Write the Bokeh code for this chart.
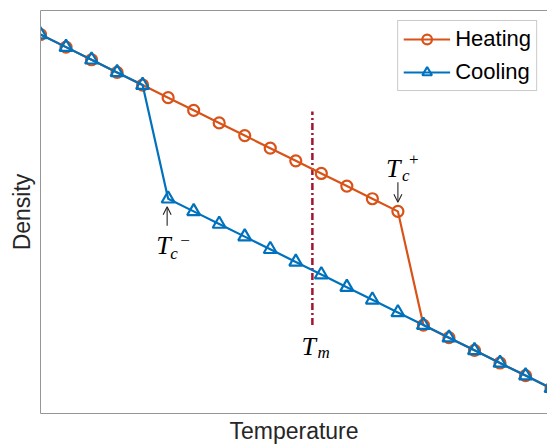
from bokeh.plotting import figure
from bokeh.models import FixedTicker, LinearAxis, Arrow, OpenHead, Legend, LegendItem
from bokeh.core.properties import value
from bokeh.embed import file_html
from bokeh.resources import INLINE

# ---- data ----
temperature = list(range(1, 22))
heating = [30, 29, 28, 27, 26, 25, 24, 23, 22, 21, 20, 19, 18, 17, 16,
           7, 6, 5, 4, 3, 2]
cooling = [30, 29, 28, 27, 26,
           17, 16, 15, 14, 13, 12, 11, 10, 9, 8, 7,
           6, 5, 4, 3, 2]
tm_x = 11.65
tm_span = [7, 23.9]
tc_minus_idx = 5    # index in cooling
tc_plus_idx = 14    # index in heating

x_range = (1, 20.86)
y_range = (0, 31.9)

ORANGE = "#D95319"
BLUE = "#0072BD"
RED = "#A2142F"
GRAY = "#969696"
INK = "#262626"

W, H = 547, 447
ML, MR, MT, MB = 40, 0, 10, 34
frame_w = W - ML - MR
frame_h = H - MT - MB
px_x = (x_range[1] - x_range[0]) / frame_w
px_y = (y_range[1] - y_range[0]) / frame_h

p = figure(width=W, height=H, x_range=x_range, y_range=y_range,
           output_backend="svg", toolbar_location=None,
           min_border_left=ML, min_border_right=MR,
           min_border_top=MT, min_border_bottom=MB)
p.outline_line_color = None
p.grid.visible = False
p.background_fill_color = "white"
p.border_fill_color = "white"

for ax in (p.xaxis[0], p.yaxis[0]):
    ax.ticker = FixedTicker(ticks=[])
    ax.major_tick_out = 0
    ax.major_tick_in = 0
    ax.major_label_standoff = 0
    ax.axis_line_color = GRAY
    ax.axis_line_width = 1
    ax.axis_label_text_font = "Liberation Sans"
    ax.axis_label_text_font_style = "normal"
    ax.axis_label_text_font_size = "23px"
    ax.axis_label_text_color = INK
p.xaxis.axis_label = "Temperature"
p.yaxis.axis_label = "Density"
p.xaxis.axis_label_standoff = 4
p.yaxis.axis_label_standoff = 6

top = LinearAxis(ticker=FixedTicker(ticks=[]), major_tick_out=0, major_tick_in=0,
                 major_label_standoff=0, axis_line_color=GRAY, axis_line_width=1)
p.add_layout(top, "above")

# T_m line
p.line([tm_x, tm_x], tm_span, line_color=RED, line_width=2.5, line_dash="7 3 2 3")

# series
hl = p.line(temperature, heating, line_color=ORANGE, line_width=2.2)
hs = p.scatter(temperature, heating, marker="circle", size=11, line_color=ORANGE,
               line_width=2.2, fill_color=None)
cl = p.line(temperature, cooling, line_color=BLUE, line_width=2.2)
cs = p.scatter(temperature, cooling, marker="triangle", size=13, line_color=BLUE,
               line_width=2.2, fill_color=None)

legend = Legend(items=[LegendItem(label="Heating", renderers=[hl, hs]),
                       LegendItem(label="Cooling", renderers=[cl, cs])],
                location="top_right", margin=10, padding=5, spacing=7,
                glyph_width=47, glyph_height=24, label_standoff=5,
                label_text_font="Liberation Sans", label_text_font_size="22px",
                label_text_color="black",
                border_line_color=GRAY, border_line_width=1,
                background_fill_color="white", background_fill_alpha=1)
p.add_layout(legend)

# math-style annotations
SERIF = value("Liberation Serif")


def math_text(x, y, txt, dx, dy, size):
    p.text([x], [y], text=[txt], x_offset=dx, y_offset=dy,
           text_font=SERIF, text_font_style="italic", text_font_size=size,
           text_color="black", text_align="left", text_baseline="alphabetic")


def plain_text(x, y, txt, dx, dy, size):
    p.text([x], [y], text=[txt], x_offset=dx, y_offset=dy,
           text_font=SERIF, text_font_size=size,
           text_color="black", text_align="left", text_baseline="alphabetic")


# T_c^-
xa, ya = temperature[tc_minus_idx], cooling[tc_minus_idx]
p.add_layout(Arrow(x_start=xa - 1 * px_x, y_start=ya - 27 * px_y,
                   x_end=xa - 1 * px_x, y_end=ya - 8 * px_y,
                   line_color=INK, line_width=1.1,
                   end=OpenHead(size=8, line_color=INK, line_width=1.1)))
math_text(xa, ya, "T", -12, 47, "26px")
math_text(xa, ya, "c", 2, 55, "17px")
plain_text(xa, ya, "\u2212", 12, 42, "17px")

# T_c^+
xb, yb = temperature[tc_plus_idx], heating[tc_plus_idx]
p.add_layout(Arrow(x_start=xb, y_start=yb + 29 * px_y,
                   x_end=xb, y_end=yb + 9 * px_y,
                   line_color=INK, line_width=1.1,
                   end=OpenHead(size=8, line_color=INK, line_width=1.1)))
math_text(xb, yb, "T", -12, -43, "26px")
math_text(xb, yb, "c", 4, -36, "17px")
plain_text(xb, yb, "+", 11, -52, "17px")

# T_m
math_text(tm_x, tm_span[0], "T", -11, 21, "26px")
math_text(tm_x, tm_span[0], "m", 5, 27, "17px")

open("out.html", "w").write(file_html(p, INLINE))
